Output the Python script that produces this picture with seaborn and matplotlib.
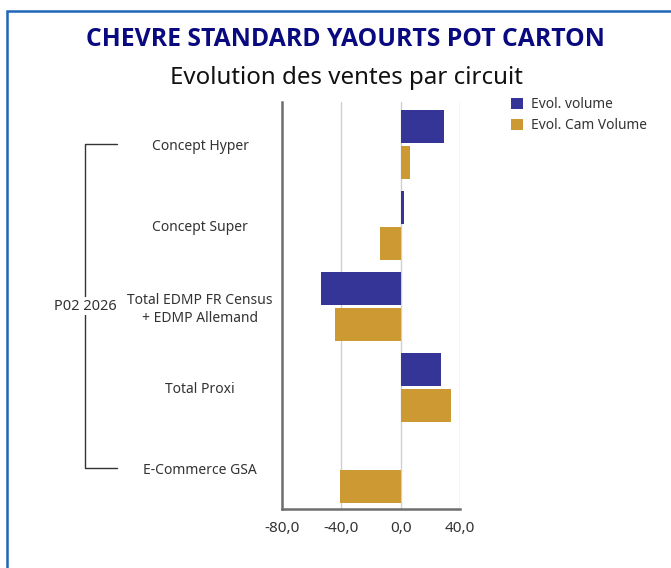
import pandas as pd
import matplotlib
matplotlib.use("Agg")
import matplotlib.pyplot as plt
import matplotlib.transforms as mtransforms
from matplotlib.patches import Rectangle, Patch
import seaborn as sns
import numpy as np

# Data
circuits = ["Concept Hyper", "Concept Super", "Total EDMP FR Census\n+ EDMP Allemand",
            "Total Proxi", "E-Commerce GSA"]
evol_volume = [29.0, 2.0, -54.0, 27.0, np.nan]
evol_cam_volume = [6.0, -14.0, -44.0, 34.0, -41.0]
series_names = ["Evol. volume", "Evol. Cam Volume"]
x_ticks = [-80, -40, 0, 40]
x_tick_labels = ["-80,0", "-40,0", "0,0", "40,0"]
group_label = "P02 2026"

blue = "#353598"
gold = "#CC9933"

df = pd.DataFrame({
    "circuit": circuits * 2,
    "value": evol_volume + evol_cam_volume,
    "serie": [series_names[0]] * len(circuits) + [series_names[1]] * len(circuits),
})

sns.set_style("white")
plt.rcParams["font.family"] = ["Noto Sans", "DejaVu Sans"]

W, H = 671, 568
fig = plt.figure(figsize=(W / 100, H / 100), dpi=100)
ax = fig.add_axes([282 / W, 1 - 509 / H, (460 - 282) / W, (509 - 102) / H])

sns.barplot(data=df, y="circuit", x="value", hue="serie", order=circuits,
            hue_order=series_names, palette=[blue, gold], orient="h",
            width=0.89, gap=0.08, linewidth=0, ax=ax, legend=False,
            errorbar=None, saturation=1)

ax.set_xlim(-80, 40)
ax.set_ylim(4.5, -0.52)
ax.set_xticks(x_ticks)
ax.set_xticklabels(x_tick_labels, fontsize=11, color="#333333")
ax.set_xlabel("")
ax.set_ylabel("")
for v in [-40, 0, 40]:
    ax.axvline(v, color="#d0d0d0", lw=1, zorder=0)
ax.set_axisbelow(True)

for side in ["top", "right"]:
    ax.spines[side].set_visible(False)
for side in ["left", "bottom"]:
    ax.spines[side].set_color("#6e6e6e")
    ax.spines[side].set_linewidth(1.8)
ax.tick_params(axis="both", length=0)
ax.tick_params(axis="x", pad=9)
ax.tick_params(axis="y", pad=59)
for lab in ax.get_yticklabels():
    lab.set_ha("center")
    lab.set_multialignment("center")
    lab.set_fontsize(10)
    lab.set_color("#333333")

# group bracket on the left
tr = mtransforms.blended_transform_factory(fig.transFigure, ax.transData)
bx0, bx1 = 85 / W, 117 / W
ax.plot([bx1, bx0, bx0, bx1], [0, 0, 4, 4], transform=tr, color="#333333",
        lw=1, clip_on=False)
ax.text(bx0, 2, group_label, transform=tr, ha="center", va="center",
        fontsize=10.5, color="#333333",
        bbox=dict(facecolor="white", edgecolor="none", pad=1))

# titles
fig.text(345 / W, 1 - 39 / H, "CHEVRE STANDARD YAOURTS POT CARTON",
         ha="center", va="center", fontsize=17.8, fontweight="bold",
         color="#0a0a80", family=["Open Sans", "DejaVu Sans"])
fig.text(346 / W, 1 - 78 / H, "Evolution des ventes par circuit",
         ha="center", va="center", fontsize=17.3, color="#111111")

# legend
handles = [Patch(facecolor=blue, edgecolor="none"), Patch(facecolor=gold, edgecolor="none")]
fig.legend(handles, series_names, loc="upper left", bbox_to_anchor=(499 / W, 1 - 85 / H),
           frameon=False, fontsize=9.9, handlelength=0.85, handleheight=0.85,
           handletextpad=0.6, labelspacing=0.4, labelcolor="#333333")

# blue frame
fig.patches.append(Rectangle((7 / W, -0.02), 1.0, 1 - 11 / H + 0.02,
                             transform=fig.transFigure, fill=False,
                             edgecolor="#1f65b8", lw=1.8))

fig.savefig("out.png", dpi=100)
